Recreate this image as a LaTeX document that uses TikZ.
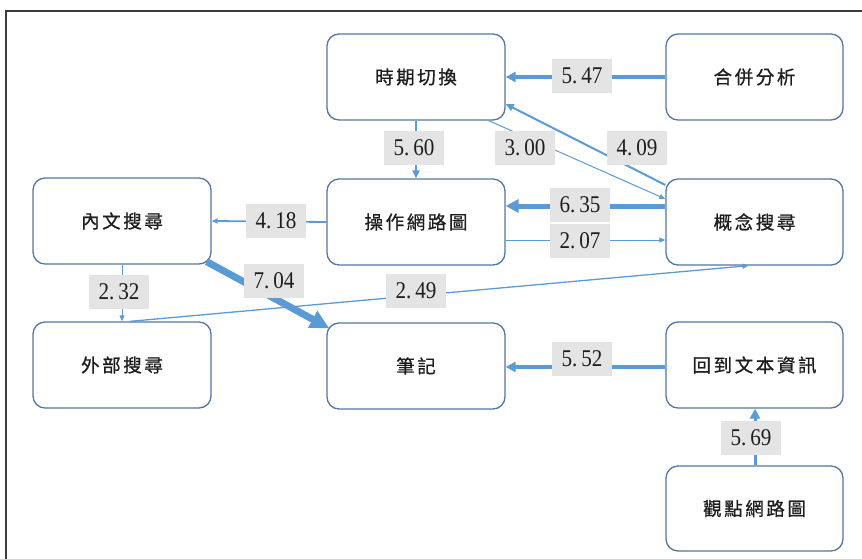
\documentclass[tikz,border=0pt]{standalone}
\usepackage{fontspec}
\setmainfont{Liberation Serif}
\newfontfamily\cjk{Noto Sans CJK TC}[LetterSpace=14,FakeBold=0.8]
\newfontfamily\numfont{Liberation Serif}[FakeStretch=0.88]
\usetikzlibrary{arrows.meta}
\definecolor{bordercol}{RGB}{84,118,162}
\definecolor{linecol}{RGB}{91,155,213}
\definecolor{lblfill}{RGB}{228,228,228}
\definecolor{txtcol}{RGB}{30,30,30}
\definecolor{framecol}{RGB}{60,60,60}
\tikzset{
  box/.style={draw=bordercol, line width=1.3pt, rounded corners=12pt, fill=white,
    minimum width=178pt, minimum height=86pt, inner sep=0pt, text=txtcol,
    font=\cjk\fontsize{18.5}{21}\selectfont},
  lbl/.style={fill=lblfill, minimum width=60pt, minimum height=34pt, inner sep=0pt,
    text=txtcol, font=\numfont\fontsize{24}{26}\selectfont},
  ln/.style={draw=linecol},
  tipS/.style={-{Triangle[length=6pt,width=5pt]}},
  tipM/.style={-{Triangle[length=8pt,width=7pt]}},
  tipL/.style={-{Triangle[length=10pt,width=10pt]}},
  tipXL/.style={-{Triangle[length=13pt,width=13pt]}},
  tipXXL/.style={-{Triangle[length=19pt,width=18pt]}},
}
\begin{document}
\begin{tikzpicture}[x=1pt,y=-1pt]
\useasboundingbox (0,0) rectangle (862,559);
% frame
\draw[framecol, line width=2.6pt] (6,559) -- (6,11) -- (862,11);
% nodes
\node[box] (tq) at (416,77) {時期切換};
\node[box, minimum width=177pt] (hb) at (754.5,77) {合併分析};
\node[box] (nw) at (122,221) {內文搜尋};
\node[box] (cz) at (416,222) {操作網路圖};
\node[box, minimum width=177pt] (gn) at (754.5,222) {概念搜尋};
\node[box] (wb) at (122,365) {外部搜尋};
\node[box] (bj) at (416,366) {筆記};
\node[box, minimum width=177pt] (hd) at (754.5,365) {回到文本資訊};
\node[box, minimum width=177pt, minimum height=85pt] (gd) at (754.5,508.5) {觀點網路圖};
% connectors
\draw[ln, line width=3.3pt, tipL] (hb.west) -- (tq.east);
\draw[ln, line width=2.6pt, tipM] (tq.south) -- (cz.north);
\draw[ln, line width=1pt, tipS] ([xshift=-17pt]tq.south east) -- ([yshift=23pt]gn.west);
\draw[ln, line width=2pt, tipM] ([yshift=37pt]gn.west) -- ([yshift=-27pt]tq.east);
\draw[ln, line width=5pt, tipXL] ([yshift=16pt]gn.west) -- ([yshift=16pt]cz.east);
\draw[ln, line width=1pt, tipS] ([yshift=-18pt]cz.east) -- ([yshift=-18pt]gn.west);
\draw[ln, line width=1.8pt, tipS] (cz.west) -- (nw.east);
\draw[ln, line width=7pt, tipXXL] ([xshift=-5pt,yshift=3pt]nw.south east) -- ([xshift=3pt,yshift=-6pt]bj.north west);
\draw[ln, line width=1pt, tipS] (nw.south) -- (wb.north);
\draw[ln, line width=1.3pt, tipS] ([xshift=8pt]wb.north) -- ([xshift=-6pt]gn.south);
\draw[ln, line width=3.3pt, tipL] ([yshift=-2pt]hd.west) -- ([yshift=-1pt]bj.east);
\draw[ln, line width=3pt, tipL] ([xshift=0.5pt]gd.north) -- ([xshift=0.5pt]hd.south);
% labels
\node[lbl] (l547) at (582,76) {5.\,47};
\node[lbl] (l560) at (414,148) {5.\,60};
\node[lbl] (l300) at (525,148) {3.\,00};
\node[lbl] (l409) at (637,148) {4.\,09};
\node[lbl] (l635) at (580,205) {6.\,35};
\node[lbl] (l207) at (580,241) {2.\,07};
\node[lbl] (l418) at (276,221) {4.\,18};
\node[lbl] (l704) at (274,281) {7.\,04};
\node[lbl] (l232) at (119,292) {2.\,32};
\node[lbl] (l249) at (416,291) {2.\,49};
\node[lbl] (l552) at (582,359) {5.\,52};
\node[lbl] (l569) at (751,438) {5.\,69};
\end{tikzpicture}
\end{document}
